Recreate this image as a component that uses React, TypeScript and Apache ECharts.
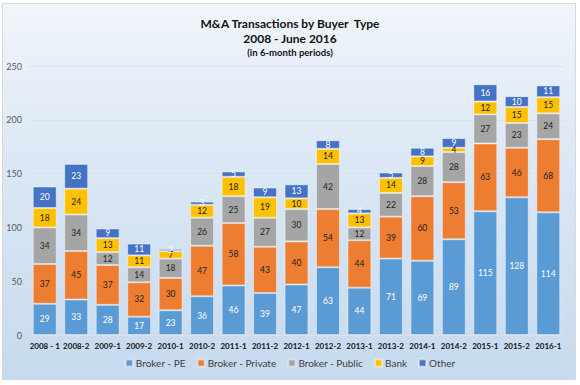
import React, { useEffect, useRef } from "react";
import * as echarts from "echarts";

const categories = ["2008 - 1", "2008-2", "2009-1", "2009-2", "2010-1", "2010-2", "2011-1", "2011-2", "2012-1", "2012-2", "2013-1", "2013-2", "2014-1", "2014-2", "2015-1", "2015-2", "2016-1"];
const brokerPE = [29, 33, 28, 17, 23, 36, 46, 39, 47, 63, 44, 71, 69, 89, 115, 128, 114];
const brokerPrivate = [37, 45, 37, 32, 30, 47, 58, 43, 40, 54, 44, 39, 60, 53, 63, 46, 68];
const brokerPublic = [34, 34, 12, 14, 18, 26, 25, 27, 30, 42, 12, 22, 28, 28, 27, 23, 24];
const bank = [18, 24, 13, 11, 7, 12, 18, 19, 10, 14, 13, 14, 9, 4, 12, 15, 15];
const other = [20, 23, 9, 11, 2, 3, 5, 9, 13, 8, 4, 5, 8, 9, 16, 10, 11];
const yTicks = [0, 50, 100, 150, 200, 250];

const FONT = "Lato, 'Open Sans', sans-serif";

export default function App() {
  const ref = useRef<HTMLDivElement>(null);
  useEffect(() => {
    document.body.style.margin = "0";
    if (!ref.current) return;
    const chart = echarts.init(ref.current, null, { renderer: "svg" });
    const mk = (name: string, data: number[], color: string, labelColor: string) => ({
      name,
      type: "bar",
      stack: "total",
      data,
      barCategoryGap: "24%",
      itemStyle: { color, borderColor: "rgba(255,255,255,0.45)", borderWidth: 1 },
      label: { show: true, position: "inside", color: labelColor, fontSize: 8.5, fontFamily: FONT },
      emphasis: { disabled: true },
    });
    chart.setOption({
      animation: false,
      textStyle: { fontFamily: FONT },
      title: [
        { text: "M&A Transactions by Buyer  Type", left: "center", top: 12, textStyle: { fontSize: 12, fontWeight: "bold", color: "#111", fontFamily: FONT } },
        { text: "2008 - June 2016", left: "center", top: 27, textStyle: { fontSize: 12, fontWeight: "bold", color: "#111", fontFamily: FONT } },
        { text: "(in 6-month periods)", left: "center", top: 42, textStyle: { fontSize: 9.5, fontWeight: "bold", color: "#111", fontFamily: FONT } },
      ],
      legend: {
        bottom: 12,
        left: "center",
        icon: "rect",
        itemWidth: 7,
        itemHeight: 7,
        itemGap: 11,
        textStyle: { fontSize: 10, color: "#404040", fontFamily: FONT, padding: [0, 0, 0, -2] },
        data: ["Broker - PE", "Broker - Private", "Broker - Public", "Bank", "Other"],
      },
      grid: { left: 29, right: 16, top: 66, bottom: 50 },
      xAxis: {
        type: "category",
        data: categories,
        axisLine: { show: true, lineStyle: { color: "#D9E3EE", width: 1 } },
        axisTick: { show: false },
        axisLabel: { color: "#111", fontSize: 8, fontWeight: "bold", fontFamily: FONT, margin: 7, interval: 0 },
      },
      yAxis: {
        type: "value",
        min: yTicks[0],
        max: yTicks[yTicks.length - 1],
        interval: 50,
        axisLine: { show: false },
        axisTick: { show: false },
        splitLine: { lineStyle: { color: "#D6E2EF", width: 1 } },
        axisLabel: { color: "#595959", fontSize: 9, fontFamily: FONT, margin: 7 },
      },
      series: [
        mk("Broker - PE", brokerPE, "#5B9BD5", "#FFFFFF"),
        mk("Broker - Private", brokerPrivate, "#ED7D31", "#222222"),
        mk("Broker - Public", brokerPublic, "#A5A5A5", "#222222"),
        mk("Bank", bank, "#FFC000", "#222222"),
        mk("Other", other, "#4472C4", "#FFFFFF"),
      ],
    });
    return () => chart.dispose();
  }, []);
  return (
    <div
      style={{
        width: 580,
        height: 385,
        position: "relative",
        background: "#ffffff",
      }}
    >
      <div
        style={{
          position: "absolute",
          left: 2,
          top: 3,
          width: 572,
          height: 375,
          border: "1px solid #D9D9D9",
          background: "linear-gradient(to bottom, #F1F5FB 0%, #DCE8F5 40%, #C6DAEE 100%)",
        }}
      />
      <div ref={ref} style={{ position: "absolute", left: 0, top: 0, width: 580, height: 385 }} />
    </div>
  );
}
